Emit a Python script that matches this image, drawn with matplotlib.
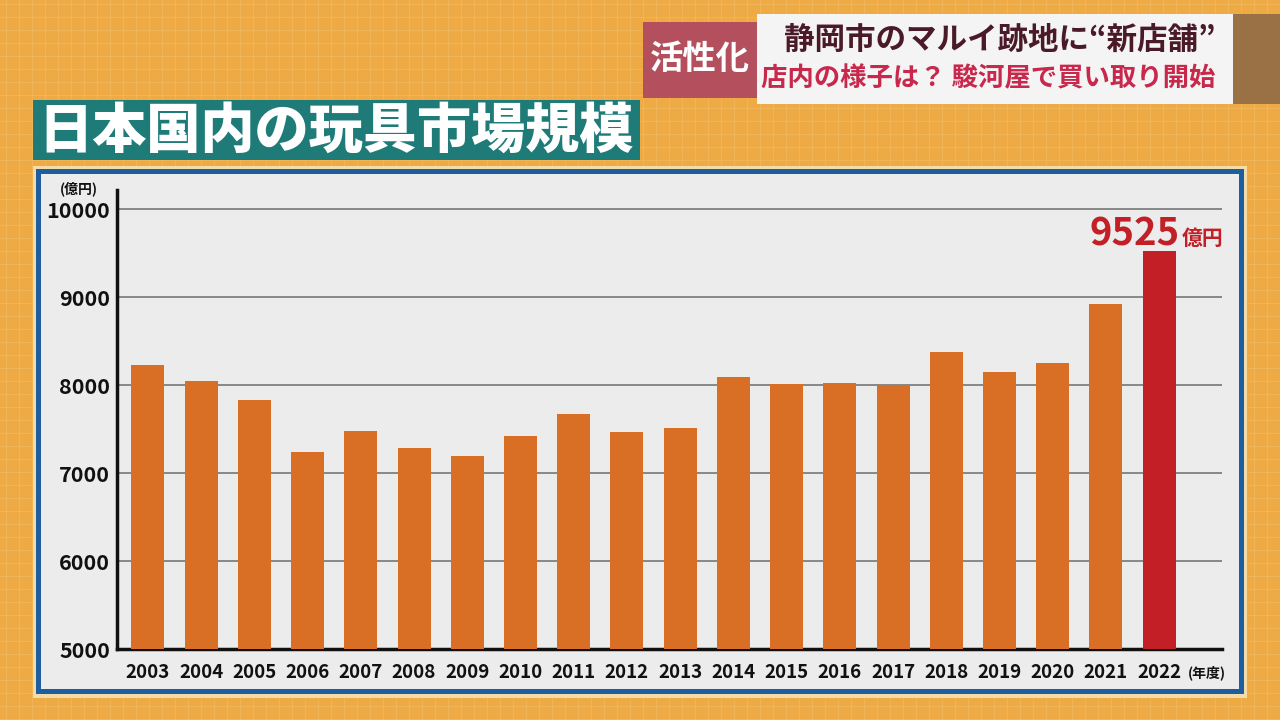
import numpy as np
import matplotlib
matplotlib.use("Agg")
import matplotlib.pyplot as plt
from matplotlib.patches import Rectangle

plt.rcParams['font.family'] = ['Noto Sans CJK JP', 'DejaVu Sans']

years = ["2003", "2004", "2005", "2006", "2007", "2008", "2009", "2010", "2011", "2012",
         "2013", "2014", "2015", "2016", "2017", "2018", "2019", "2020", "2021", "2022"]
values = [8224, 8050, 7834, 7235, 7474, 7281, 7190, 7417, 7667, 7462,
          7508, 8088, 8009, 8020, 7999, 8370, 8150, 8245, 8925, 9525]
yticks = [5000, 6000, 7000, 8000, 9000, 10000]

title = "日本国内の玩具市場規模"
tag = "活性化"
head1 = "静岡市のマルイ跡地に“新店舗”"
head2 = "店内の様子は？ 駿河屋で買い取り開始"

ORANGE = "#d96f25"
RED = "#c22026"
BG = "#eeaa45"

fig = plt.figure(figsize=(12.8, 7.2), dpi=100)
fig.patch.set_facecolor(BG)

# background layer in pixel coordinates
bg = fig.add_axes([0, 0, 1, 1])
bg.set_xlim(0, 1280)
bg.set_ylim(720, 0)
bg.axis("off")
for x in np.arange(6, 1280, 13):
    bg.axvline(x, color="#f6c878", lw=0.8, alpha=0.35, zorder=0)
for y in np.arange(4, 720, 13):
    bg.axhline(y, color="#f6c878", lw=0.8, alpha=0.35, zorder=0)

# chart panel
bg.add_patch(Rectangle((33, 166), 1214, 532, facecolor="#f4dca8", edgecolor="none", zorder=1))
bg.add_patch(Rectangle((36, 169), 1208, 525, facecolor="#1f5e9e", edgecolor="none", zorder=2))
bg.add_patch(Rectangle((41, 174), 1198, 515, facecolor="#ececec", edgecolor="none", zorder=3))

# title
bg.add_patch(Rectangle((33, 100), 607, 60, facecolor="#1e7b78", edgecolor="none", zorder=4))
bg.text(336, 131, title, color="white", fontsize=39, fontweight="heavy",
        ha="center", va="center", zorder=5)

# top-right caption
bg.add_patch(Rectangle((1232, 14), 48, 90, facecolor="#9a7045", edgecolor="none", zorder=4))
bg.add_patch(Rectangle((757, 14), 476, 90, facecolor="#f4f4f4", edgecolor="none", zorder=4))
bg.add_patch(Rectangle((643, 22), 114, 76, facecolor="#b4505e", edgecolor="none", zorder=5))
bg.text(700, 60, tag, color="white", fontsize=24, fontweight="bold",
        ha="center", va="center", zorder=6)
bg.text(1000, 40, head1, color="#4a1a28", fontsize=22, fontweight="bold",
        ha="center", va="center", zorder=6)
bg.text(988, 79, head2, color="#c8284c", fontsize=19, fontweight="bold",
        ha="center", va="center", zorder=6)

# bar chart
ax = fig.add_axes([117 / 1280, 71 / 720, (1222 - 117) / 1280, (649 - 190) / 720])
ax.set_facecolor("none")
x = np.arange(len(years))
colors = [ORANGE] * (len(years) - 1) + [RED]
ax.bar(x, values, width=0.62, color=colors, zorder=3)
ax.set_xlim(-0.58, len(years) - 1 + 1.18)
ax.set_ylim(5000, 10216)
ax.set_yticks(yticks)
ax.set_yticklabels([str(v) for v in yticks], fontsize=15.5, fontweight="bold", color="#111111")
ax.set_xticks(x)
ax.set_xticklabels(years, fontsize=13.5, fontweight="bold", color="#111111")
ax.tick_params(axis="both", length=0)
ax.tick_params(axis="y", pad=5)
ax.tick_params(axis="x", pad=10)
ax.yaxis.grid(True, color="#777777", lw=1.2, zorder=1)
for side in ["top", "right"]:
    ax.spines[side].set_visible(False)
ax.spines["left"].set_linewidth(2.5)
ax.spines["bottom"].set_linewidth(2.5)
ax.spines["left"].set_color("#111111")
ax.spines["bottom"].set_color("#111111")

ax.text(-1.29, 10225, "(億円)", fontsize=10, fontweight="bold", color="#111111",
        ha="center", va="center", clip_on=False)
ax.text(19.9, 4730, "(年度)", fontsize=10, fontweight="bold", color="#111111",
        ha="center", va="center", clip_on=False)

last = len(years) - 1
ax.annotate(str(values[last]), xy=(last, values[last]), xytext=(15, 4),
            textcoords="offset points", ha="right", va="baseline",
            fontsize=27.5, fontweight="bold", color=RED, annotation_clip=False)
ax.annotate("億円", xy=(last, values[last]), xytext=(16, 4),
            textcoords="offset points", ha="left", va="baseline",
            fontsize=15, fontweight="bold", color=RED, annotation_clip=False)

fig.savefig("out.png", dpi=100, facecolor=BG)
